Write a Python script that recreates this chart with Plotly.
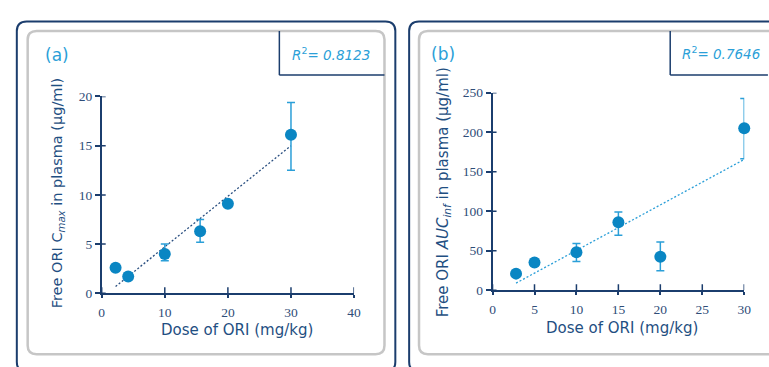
import plotly.graph_objects as go

W, H = 769, 367

# Panel (a): free ORI Cmax vs dose
dose_a = [2.2, 4.2, 10, 15.6, 20, 30]
cmax = [2.6, 1.7, 4.0, 6.3, 9.1, 16.1]
cmax_hi = [2.6, 1.7, 5.0, 7.5, 9.1, 19.4]
cmax_lo = [2.6, 1.7, 3.3, 5.2, 9.1, 12.5]
trend_a_x = [2.2, 30]
trend_a_y = [0.7, 15.0]
ticks_a_x = [0, 10, 20, 30, 40]
ticks_a_y = [0, 5, 10, 15, 20]

# Panel (b): free ORI AUCinf vs dose
dose_b = [2.8, 5, 10, 15, 20, 30]
auc = [21, 35, 48, 86, 42.5, 205]
auc_hi = [21, 35, 59, 99, 61, 242.5]
auc_lo = [21, 35, 36.5, 69.5, 24.5, 166.5]
trend_b_x = [2.8, 30]
trend_b_y = [9, 165.5]
ticks_b_x = [0, 5, 10, 15, 20, 25, 30]
ticks_b_y = [0, 50, 100, 150, 200, 250]

r2_a = "0.8123"
r2_b = "0.7646"

NAVY = "#1b3d6d"
TICKC = "#2f4d78"
TITLEC = "#1f4f82"
DOT = "#0a86c3"
LIGHT = "#2b9fd8"
GRAY = "#c6c6c6"
SANS = "'DejaVu Sans', sans-serif"
SERIF = "'Liberation Serif', 'DejaVu Serif', serif"


def px(x):
    return x / W


def py(y):
    return 1 - y / H


def rrect(x0, y0, x1, y1, r):
    pts = [
        f"M {px(x0 + r)},{py(y0)}",
        f"L {px(x1 - r)},{py(y0)}",
        f"Q {px(x1)},{py(y0)} {px(x1)},{py(y0 + r)}",
        f"L {px(x1)},{py(y1 - r)}",
        f"Q {px(x1)},{py(y1)} {px(x1 - r)},{py(y1)}",
        f"L {px(x0 + r)},{py(y1)}",
        f"Q {px(x0)},{py(y1)} {px(x0)},{py(y1 - r)}",
        f"L {px(x0)},{py(y0 + r)}",
        f"Q {px(x0)},{py(y0)} {px(x0 + r)},{py(y0)}",
        "Z",
    ]
    return " ".join(pts)


fig = go.Figure()


def add_panel(xs, ys, hi, lo, tx, ty, xa, ya, trend_color):
    fig.add_trace(go.Scatter(
        x=tx, y=ty, mode="lines", xaxis=xa, yaxis=ya,
        line=dict(color=trend_color, width=1.3, dash="2px,2px"),
        hoverinfo="skip", cliponaxis=False))
    fig.add_trace(go.Scatter(
        x=xs, y=ys, mode="markers", xaxis=xa, yaxis=ya, cliponaxis=False,
        marker=dict(color=DOT, size=12),
        error_y=dict(type="data", symmetric=False,
                     array=[h - v for h, v in zip(hi, ys)],
                     arrayminus=[v - l for l, v in zip(lo, ys)],
                     color=LIGHT, thickness=1.5, width=4)))


add_panel(dose_a, cmax, cmax_hi, cmax_lo, trend_a_x, trend_a_y, "x", "y", "#2a4f80")
add_panel(dose_b, auc, auc_hi, auc_lo, trend_b_x, trend_b_y, "x2", "y2", LIGHT)

axis_common = dict(
    showline=True, linecolor=NAVY, linewidth=1.5,
    ticks="outside", tickcolor=NAVY, tickwidth=1.5,
    showgrid=False, zeroline=False,
    tickfont=dict(family=SERIF, size=13.5, color=TICKC),
    fixedrange=True,
)

fig.update_layout(
    width=W, height=H,
    margin=dict(l=0, r=0, t=0, b=0),
    paper_bgcolor="white", plot_bgcolor="white",
    showlegend=False,
    xaxis=dict(axis_common, domain=[px(100), px(355.7)], range=[0, 40],
               tickvals=ticks_a_x, ticklen=3, ticklabelstandoff=3, anchor="y"),
    yaxis=dict(axis_common, domain=[py(298.5), py(93.3)], range=[0, 20],
               tickvals=ticks_a_y, ticklen=5, anchor="x"),
    xaxis2=dict(axis_common, domain=[px(496), px(751)], range=[0, 30],
                tickvals=ticks_b_x, ticklen=3, ticklabelstandoff=3, anchor="y2"),
    yaxis2=dict(axis_common, domain=[py(295.3), py(89.3)], range=[0, 250],
                tickvals=ticks_b_y, ticklen=5, anchor="x2"),
)

shapes = []
# Crossing tick marks: the part of each tick that reaches into the plot area
for xa, ya, xt, yt in [("x", "y", ticks_a_x, ticks_a_y),
                       ("x2", "y2", ticks_b_x, ticks_b_y)]:
    for v in xt:
        shapes.append(dict(type="line", xref=xa, yref=ya, x0=v, x1=v,
                           ysizemode="pixel", yanchor=0, y0=0, y1=6,
                           line=dict(color=NAVY, width=1.5)))
    for v in yt:
        shapes.append(dict(type="line", xref=xa, yref=ya, y0=v, y1=v,
                           xsizemode="pixel", xanchor=0, x0=0, x1=4,
                           line=dict(color=NAVY, width=1.5)))

# Panel frames: dark outer border and grey inner border
for x0, x1 in [(14, 397.5), (411.5, 795)]:
    shapes.append(dict(type="path", xref="paper", yref="paper",
                       path=rrect(x0, 15, x1, 380, 10),
                       line=dict(color=NAVY, width=2)))
for x0, x1 in [(25, 386.5), (421.5, 785)]:
    shapes.append(dict(type="path", xref="paper", yref="paper",
                       path=rrect(x0, 25, x1, 362, 9),
                       line=dict(color=GRAY, width=2.5)))

# R-squared boxes
for xl, xr in [(280, 386.5), (676, 775)]:
    shapes.append(dict(type="line", xref="paper", yref="paper",
                       x0=px(xl), x1=px(xl), y0=py(25), y1=py(71),
                       line=dict(color=NAVY, width=1.5)))
    shapes.append(dict(type="line", xref="paper", yref="paper",
                       x0=px(xl), x1=px(xr), y0=py(71), y1=py(71),
                       line=dict(color=NAVY, width=1.5)))

fig.update_layout(shapes=shapes)


def note(text, x, y, size, color, font=SANS, angle=0):
    fig.add_annotation(text=text, x=px(x), y=py(y), xref="paper", yref="paper",
                       showarrow=False, textangle=angle, xanchor="center",
                       yanchor="middle",
                       font=dict(family=font, size=size, color=color))


note("(a)", 55, 50, 17, LIGHT)
note("(b)", 445.5, 49, 17, LIGHT)
note(f"<i>R</i><sup>2</sup><i>= {r2_a}</i>", 332, 49, 13.5, LIGHT)
note(f"<i>R</i><sup>2</sup><i>= {r2_b}</i>", 727, 48, 13.5, LIGHT)

note("Dose of ORI (mg/kg)", 237, 337, 15, TITLEC)
note("Dose of ORI (mg/kg)", 627, 335, 15, TITLEC)
note("Free ORI C<sub><i>max</i></sub> in plasma (µg/ml)", 56, 194, 14.5, TITLEC, angle=-90)
note("Free ORI <i>AUC</i><sub><i>inf</i></sub> in plasma (µg/ml)", 446, 193, 15, TITLEC,
     angle=-90)

fig.write_html("out.html")
